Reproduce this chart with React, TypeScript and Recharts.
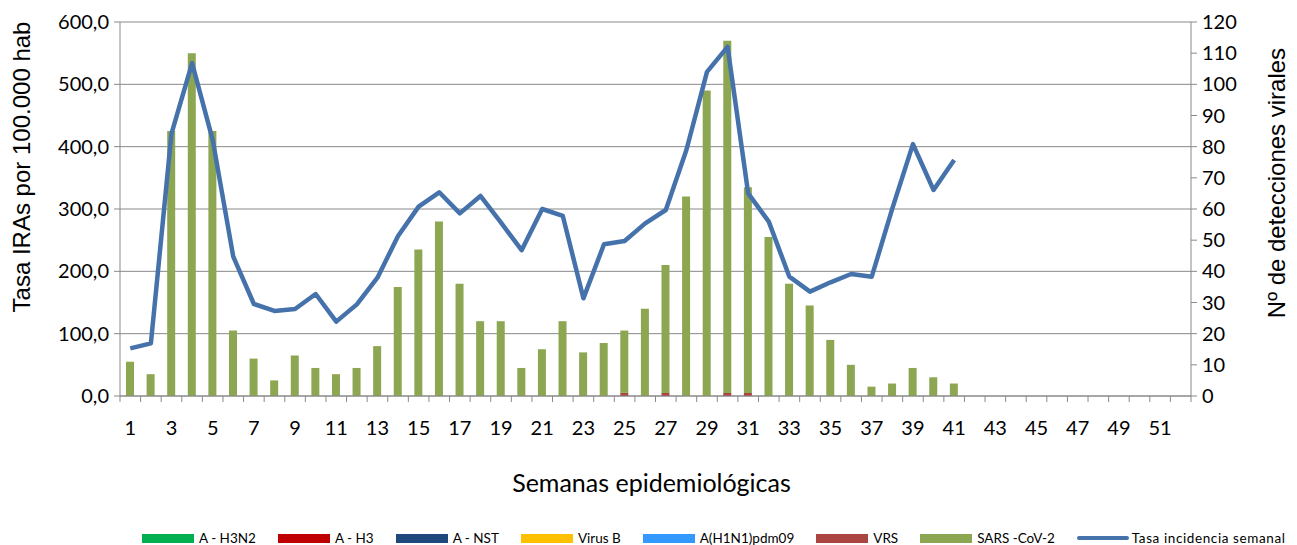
import React from 'react';
import {
  ComposedChart,
  Bar,
  Line,
  XAxis,
  YAxis,
  CartesianGrid,
  Legend,
  Label,
} from 'recharts';

// ---------- data ----------
const WEEKS = [
  '1', '2', '3', '4', '5', '6', '7', '8', '9', '10', '11', '12', '13',
  '14', '15', '16', '17', '18', '19', '20', '21', '22', '23', '24', '25', '26',
  '27', '28', '29', '30', '31', '32', '33', '34', '35', '36', '37', '38', '39',
  '40', '41', '42', '43', '44', '45', '46', '47', '48', '49', '50', '51', '52',
];

// Tasa IRAs por 100.000 hab (left axis), weeks 1-41
const TASA = [
  76.5, 84.5, 421, 534, 411, 223.5, 147.6, 136.4, 139.6, 163.6, 119.3, 147,
  189.9, 256.7, 303.8, 326.8, 293, 321, 278, 234, 300, 288.8, 156.7, 243.4,
  248.7, 277, 298.4, 394.7, 520, 560, 325, 279.7, 191.4, 167.4, 182.4, 195.7,
  191.4, 301, 404, 330.5, 378.6,
];

// Detections (right axis), weeks 1-41
const SARS_COV2 = [
  11, 7, 85, 110, 85, 21, 12, 5, 13, 9, 7, 9, 16, 35, 47, 56, 36, 24, 24, 9,
  15, 24, 14, 17, 20, 28, 41, 64, 98, 113, 66, 51, 36, 29, 18, 10, 3, 4, 9, 6, 4,
];
const VRS = [
  0, 0, 0, 0, 0, 0, 0, 0, 0, 0, 0, 0, 0, 0, 0, 0, 0, 0, 0, 0,
  0, 0, 0, 0, 1, 0, 1, 0, 0, 1, 1, 0, 0, 0, 0, 0, 0, 0, 0, 0, 0,
];
const ZEROS = [
  0, 0, 0, 0, 0, 0, 0, 0, 0, 0, 0, 0, 0, 0, 0, 0, 0, 0, 0, 0,
  0, 0, 0, 0, 0, 0, 0, 0, 0, 0, 0, 0, 0, 0, 0, 0, 0, 0, 0, 0, 0,
];
const A_H3N2 = ZEROS;
const A_H3 = ZEROS;
const A_NST = ZEROS;
const VIRUS_B = ZEROS;
const A_H1N1 = ZEROS;

const LEFT_TICKS = [0, 100, 200, 300, 400, 500, 600];
const RIGHT_TICKS = [0, 10, 20, 30, 40, 50, 60, 70, 80, 90, 100, 110, 120];

const BAR_SERIES = [
  { key: 'h3n2', name: 'A - H3N2', color: '#00B050', values: A_H3N2 },
  { key: 'h3', name: 'A - H3', color: '#C00000', values: A_H3 },
  { key: 'nst', name: 'A - NST', color: '#1F497D', values: A_NST },
  { key: 'vb', name: 'Virus B', color: '#FFC000', values: VIRUS_B },
  { key: 'h1n1', name: 'A(H1N1)pdm09', color: '#3399FF', values: A_H1N1 },
  { key: 'vrs', name: 'VRS', color: '#AB4541', values: VRS },
  { key: 'sars', name: 'SARS -CoV-2', color: '#8DA651', values: SARS_COV2 },
];
const LINE_NAME = 'Tasa incidencia semanal';
const LINE_COLOR = '#4672AB';

const data = WEEKS.map((w, i) => {
  const row: Record<string, any> = { week: w, tasa: i < TASA.length ? TASA[i] : null };
  BAR_SERIES.forEach((s) => {
    row[s.key] = i < s.values.length ? s.values[i] : null;
  });
  return row;
});

// ---------- layout ----------
const W = 1297;
const H = 545;
const PLOT_LEFT = 120;
const PLOT_RIGHT = 1191;
const PLOT_TOP = 22;
const PLOT_BOTTOM = 396;
const PLOT_W = PLOT_RIGHT - PLOT_LEFT;
const BAND = PLOT_W / WEEKS.length;
const GRAY = '#898989';
const TICK_FONT = 'Lato, "Open Sans", sans-serif';
const TITLE_FONT = '"Liberation Sans", Arial, sans-serif';

const XTick = (props: any) => {
  const { x, y, index, payload } = props;
  const axisY = y;
  return (
    <g>
      <line x1={x - BAND / 2} x2={x - BAND / 2} y1={axisY} y2={axisY + 6} stroke={GRAY} strokeWidth={1} />
      {index === WEEKS.length - 1 && (
        <line x1={x + BAND / 2} x2={x + BAND / 2} y1={axisY} y2={axisY + 6} stroke={GRAY} strokeWidth={1} />
      )}
      {index % 2 === 0 && (
        <text x={x} y={axisY + 39} textAnchor="middle" fontSize={20} fontFamily={TICK_FONT} fill="#000">
          {payload.value}
        </text>
      )}
    </g>
  );
};

const LegendContent = () => (
  <div
    style={{
      display: 'flex',
      alignItems: 'center',
      paddingLeft: 142,
      gap: 22,
      fontFamily: TICK_FONT,
      fontSize: 13.5,
      color: '#000',
      whiteSpace: 'nowrap',
      height: 18,
    }}
  >
    {BAR_SERIES.map((s) => (
      <div key={s.key} style={{ display: 'flex', alignItems: 'center' }}>
        <span style={{ display: 'inline-block', width: 52, height: 9, background: s.color, marginRight: 5 }} />
        <span>{s.name}</span>
      </div>
    ))}
    <div style={{ display: 'flex', alignItems: 'center' }}>
      <span style={{ display: 'inline-block', width: 52, height: 4, borderRadius: 2, background: LINE_COLOR, marginRight: 3 }} />
      <span style={{ letterSpacing: 0.6 }}>{LINE_NAME}</span>
    </div>
  </div>
);

export default function App() {
  return (
    <div style={{ position: 'absolute', left: 0, top: 0, width: W, height: H, background: '#fff' }}>
      <ComposedChart
        width={W}
        height={H}
        data={data}
        margin={{ top: PLOT_TOP, right: 0, bottom: 0, left: 0 }}
        barCategoryGap={0}
      >
        <CartesianGrid yAxisId="left" vertical={false} stroke={GRAY} strokeWidth={1} />
        <XAxis
          dataKey="week"
          height={H - PLOT_BOTTOM}
          interval={0}
          tickSize={0}
          tickMargin={0}
          tickLine={false}
          axisLine={{ stroke: GRAY, strokeWidth: 1 }}
          tick={<XTick />}
        >
          <Label
            content={(p: any) => {
              const vb = p.viewBox;
              return (
                <text
                  x={vb.x + vb.width / 2 - 4}
                  y={492}
                  textAnchor="middle"
                  fontSize={25}
                  fontFamily={TICK_FONT}
                  fill="#000"
                >
                  Semanas epidemiológicas
                </text>
              );
            }}
          />
        </XAxis>
        <YAxis
          yAxisId="left"
          orientation="left"
          width={PLOT_LEFT}
          domain={[0, 600]}
          ticks={LEFT_TICKS}
          interval={0}
          tickFormatter={(v: number) => v.toFixed(1).replace('.', ',')}
          tickSize={6}
          tickMargin={5}
          tickLine={{ stroke: GRAY }}
          axisLine={{ stroke: GRAY }}
          tick={{ fill: '#000', fontSize: 20, fontFamily: TICK_FONT }}
        >
          <Label
            content={() => {
              const cx = 30;
              const cy = 167;
              return (
                <text
                  x={cx}
                  y={cy}
                  transform={`rotate(-90 ${cx} ${cy})`}
                  textAnchor="middle"
                  fontSize={24}
                  fontFamily={TITLE_FONT}
                  fill="#000"
                >
                  Tasa IRAs por 100.000 hab
                </text>
              );
            }}
          />
        </YAxis>
        <YAxis
          yAxisId="right"
          orientation="right"
          width={W - PLOT_RIGHT}
          domain={[0, 120]}
          ticks={RIGHT_TICKS}
          interval={0}
          tickSize={6}
          tickMargin={5}
          tickLine={{ stroke: GRAY }}
          axisLine={{ stroke: GRAY }}
          tick={{ fill: '#000', fontSize: 20, fontFamily: TICK_FONT }}
        >
          <Label
            content={() => {
              const cx = 1285;
              const cy = 183;
              return (
                <text
                  x={cx}
                  y={cy}
                  transform={`rotate(-90 ${cx} ${cy})`}
                  textAnchor="middle"
                  fontSize={24}
                  fontFamily={TITLE_FONT}
                  fill="#000"
                >
                  Nº de detecciones virales
                </text>
              );
            }}
          />
        </YAxis>
        {BAR_SERIES.map((s) => (
          <Bar
            key={s.key}
            dataKey={s.key}
            name={s.name}
            yAxisId="right"
            stackId="v"
            fill={s.color}
            barSize={8}
            isAnimationActive={false}
          />
        ))}
        <Line
          type="linear"
          dataKey="tasa"
          name={LINE_NAME}
          yAxisId="left"
          stroke={LINE_COLOR}
          strokeWidth={4.5}
          strokeLinejoin="round"
          dot={false}
          activeDot={false}
          isAnimationActive={false}
        />
        <Legend
          layout="vertical"
          verticalAlign="middle"
          align="center"
          wrapperStyle={{ left: 0, top: 529, width: W, height: 18 }}
          content={<LegendContent />}
        />
      </ComposedChart>
    </div>
  );
}
